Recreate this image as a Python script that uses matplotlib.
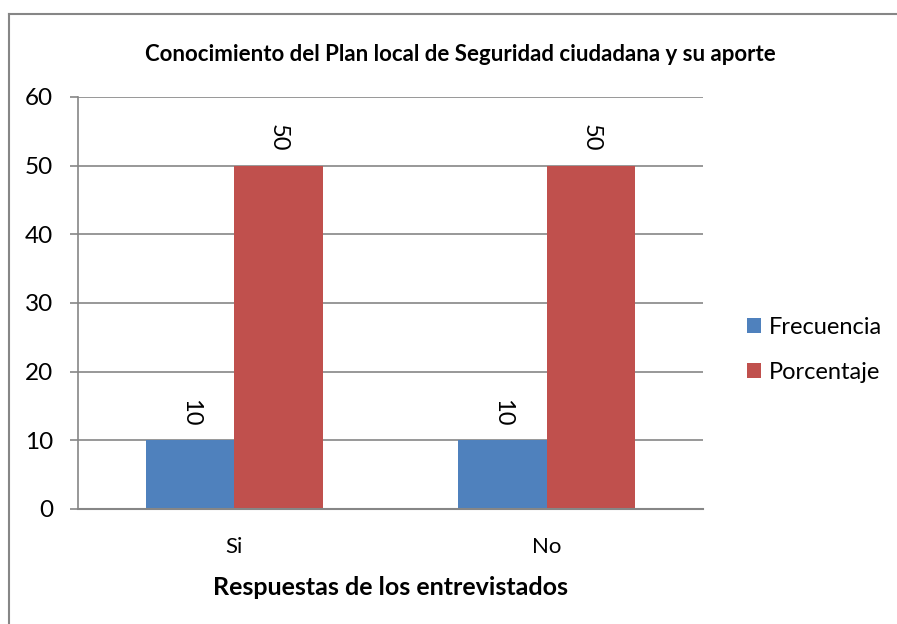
import matplotlib
matplotlib.use("Agg")
import matplotlib.pyplot as plt
import numpy as np

plt.rcParams['font.family'] = ['Lato', 'DejaVu Sans']

# datos
categorias = ["Si", "No"]
frecuencia = [10, 10]
porcentaje = [50, 50]
ticks_y = [0, 10, 20, 30, 40, 50, 60]

azul = "#4F81BD"
rojo = "#C0504D"
gris = "#868686"

fig = plt.figure(figsize=(8.97, 6.24), dpi=100)
ax = fig.add_axes([0.087, 0.1843, 0.697, 0.6603])

x = np.arange(len(categorias))
ancho = 0.283
b1 = ax.bar(x - ancho/2, frecuencia, ancho, color=azul, label="Frecuencia")
b2 = ax.bar(x + ancho/2, porcentaje, ancho, color=rojo, label="Porcentaje")

for barras in (b1, b2):
    for b in barras:
        ax.annotate(str(int(b.get_height())),
                    (b.get_x() + b.get_width()/2, b.get_height()),
                    xytext=(0, 10), textcoords="offset points",
                    rotation=270, ha="center", va="bottom", fontsize=17)

ax.set_xlim(-0.5, 1.5)
ax.set_ylim(0, 60)
ax.set_yticks(ticks_y)
ax.set_xticks(x)
ax.set_xticklabels(categorias, fontsize=16)
ax.tick_params(axis="y", labelsize=17.5, length=6, width=1.2, color=gris, pad=12)
ax.tick_params(axis="x", length=0, pad=20)
ax.yaxis.grid(True, color=gris, linewidth=1.2)
ax.set_axisbelow(True)
for lado in ["top", "right"]:
    ax.spines[lado].set_visible(False)
ax.spines["left"].set_color(gris)
ax.spines["bottom"].set_color(gris)
ax.spines["left"].set_linewidth(1.2)
ax.spines["bottom"].set_linewidth(1.5)

ax.set_xlabel("Respuestas de los entrevistados", fontsize=18, fontweight="bold", labelpad=14)
fig.text(0.513, 0.912, "Conocimiento del Plan local de Seguridad ciudadana y su aporte",
         ha="center", va="center", fontsize=16, fontweight="bold")

ax.legend(loc="center left", bbox_to_anchor=(1.07, 0.386), frameon=False,
          fontsize=17, handlelength=0.58, handleheight=0.58, handletextpad=0.35,
          labelspacing=1.0, borderaxespad=0, borderpad=0)

# borde del grafico (solo arriba e izquierda)
fig.add_artist(plt.Line2D([9/897, 9/897], [0, 1 - 14/624], color=gris, linewidth=1.5))
fig.add_artist(plt.Line2D([9/897, 1], [1 - 14/624, 1 - 14/624], color=gris, linewidth=1.5))

fig.savefig("out.png", dpi=100)
